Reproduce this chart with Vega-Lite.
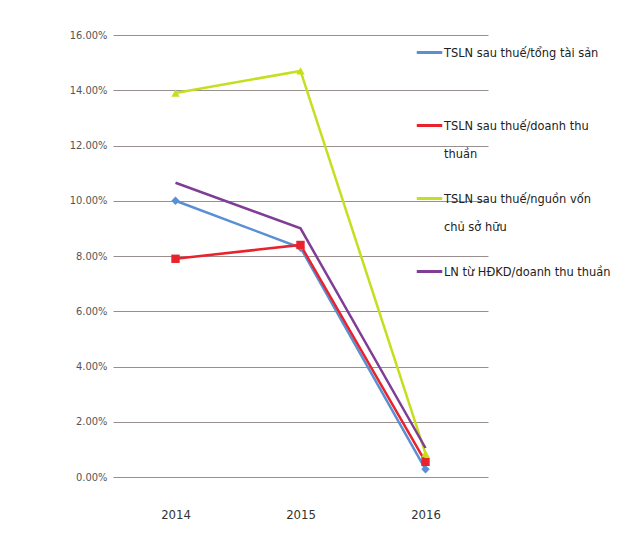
{
  "$schema": "https://vega.github.io/schema/vega-lite/v6.json",
  "width": 375,
  "height": 442,
  "autosize": "none",
  "padding": {"left": 113, "top": 35, "right": 136, "bottom": 82},
  "background": "#ffffff",
  "config": {
    "view": {"stroke": null},
    "font": "DejaVu Sans Condensed, Liberation Sans, sans-serif"
  },
  "data": {
    "values": [
      {"year": "2014", "series": "TSLN sau thuế/tổng tài sản", "value": 0.100},
      {"year": "2015", "series": "TSLN sau thuế/tổng tài sản", "value": 0.083},
      {"year": "2016", "series": "TSLN sau thuế/tổng tài sản", "value": 0.0028},
      {"year": "2014", "series": "TSLN sau thuế/doanh thu thuần", "value": 0.079},
      {"year": "2015", "series": "TSLN sau thuế/doanh thu thuần", "value": 0.084},
      {"year": "2016", "series": "TSLN sau thuế/doanh thu thuần", "value": 0.0055},
      {"year": "2014", "series": "TSLN sau thuế/nguồn vốn chủ sở hữu", "value": 0.139},
      {"year": "2015", "series": "TSLN sau thuế/nguồn vốn chủ sở hữu", "value": 0.147},
      {"year": "2016", "series": "TSLN sau thuế/nguồn vốn chủ sở hữu", "value": 0.0085},
      {"year": "2014", "series": "LN từ HĐKD/doanh thu thuần", "value": 0.1065},
      {"year": "2015", "series": "LN từ HĐKD/doanh thu thuần", "value": 0.090},
      {"year": "2016", "series": "LN từ HĐKD/doanh thu thuần", "value": 0.0105}
    ]
  },
  "encoding": {
    "x": {
      "field": "year",
      "type": "ordinal",
      "scale": {"type": "point", "padding": 0.5},
      "axis": {
        "title": null,
        "labelAngle": 0,
        "ticks": false,
        "domain": false,
        "labelPadding": 31,
        "labelFontSize": 13,
        "labelColor": "#333333"
      }
    },
    "y": {
      "field": "value",
      "type": "quantitative",
      "scale": {"domain": [0, 0.16], "nice": false},
      "axis": {
        "title": null,
        "format": ".2%",
        "values": [0, 0.02, 0.04, 0.06, 0.08, 0.10, 0.12, 0.14, 0.16],
        "ticks": false,
        "domain": false,
        "labelPadding": 6,
        "labelFontSize": 11,
        "labelColor": "#555555",
        "gridColor": "#9a8f8f",
        "gridOpacity": 1,
        "gridWidth": 1
      }
    },
    "color": {
      "field": "series",
      "type": "nominal",
      "scale": {
        "domain": ["TSLN sau thuế/tổng tài sản", "TSLN sau thuế/doanh thu thuần", "TSLN sau thuế/nguồn vốn chủ sở hữu", "LN từ HĐKD/doanh thu thuần"],
        "range": ["#5a8fd4", "#e8232b", "#c5df1e", "#7f3d96"]
      },
      "legend": {
        "title": null,
        "orient": "none",
        "legendX": 302,
        "legendY": 3,
        "symbolType": "stroke",
        "symbolSize": 650,
        "symbolStrokeWidth": 3,
        "labelFontSize": 12.7,
        "labelColor": "#222222",
        "labelLimit": 300,
        "labelOffset": 0,
        "rowPadding": 23,
        "labelExpr": "datum.label == 'TSLN sau thuế/doanh thu thuần' ? ['TSLN sau thuế/doanh thu', 'thuần'] : datum.label == 'TSLN sau thuế/nguồn vốn chủ sở hữu' ? ['TSLN sau thuế/nguồn vốn', 'chủ sở hữu'] : [datum.label, '']",
        "encode": {
          "labels": {"update": {"lineHeight": {"value": 28}}}
        }
      }
    }
  },
  "layer": [
    {"mark": {"type": "line", "strokeWidth": 2.5}},
    {
      "transform": [{"filter": "datum.series !== 'LN từ HĐKD/doanh thu thuần'"}],
      "mark": {"type": "point", "filled": true, "opacity": 1},
      "encoding": {
        "shape": {
          "field": "series",
          "type": "nominal",
          "scale": {
            "domain": ["TSLN sau thuế/tổng tài sản", "TSLN sau thuế/doanh thu thuần", "TSLN sau thuế/nguồn vốn chủ sở hữu"],
            "range": ["diamond", "square", "triangle-up"]
          },
          "legend": null
        },
        "size": {"value": 70}
      }
    }
  ]
}
